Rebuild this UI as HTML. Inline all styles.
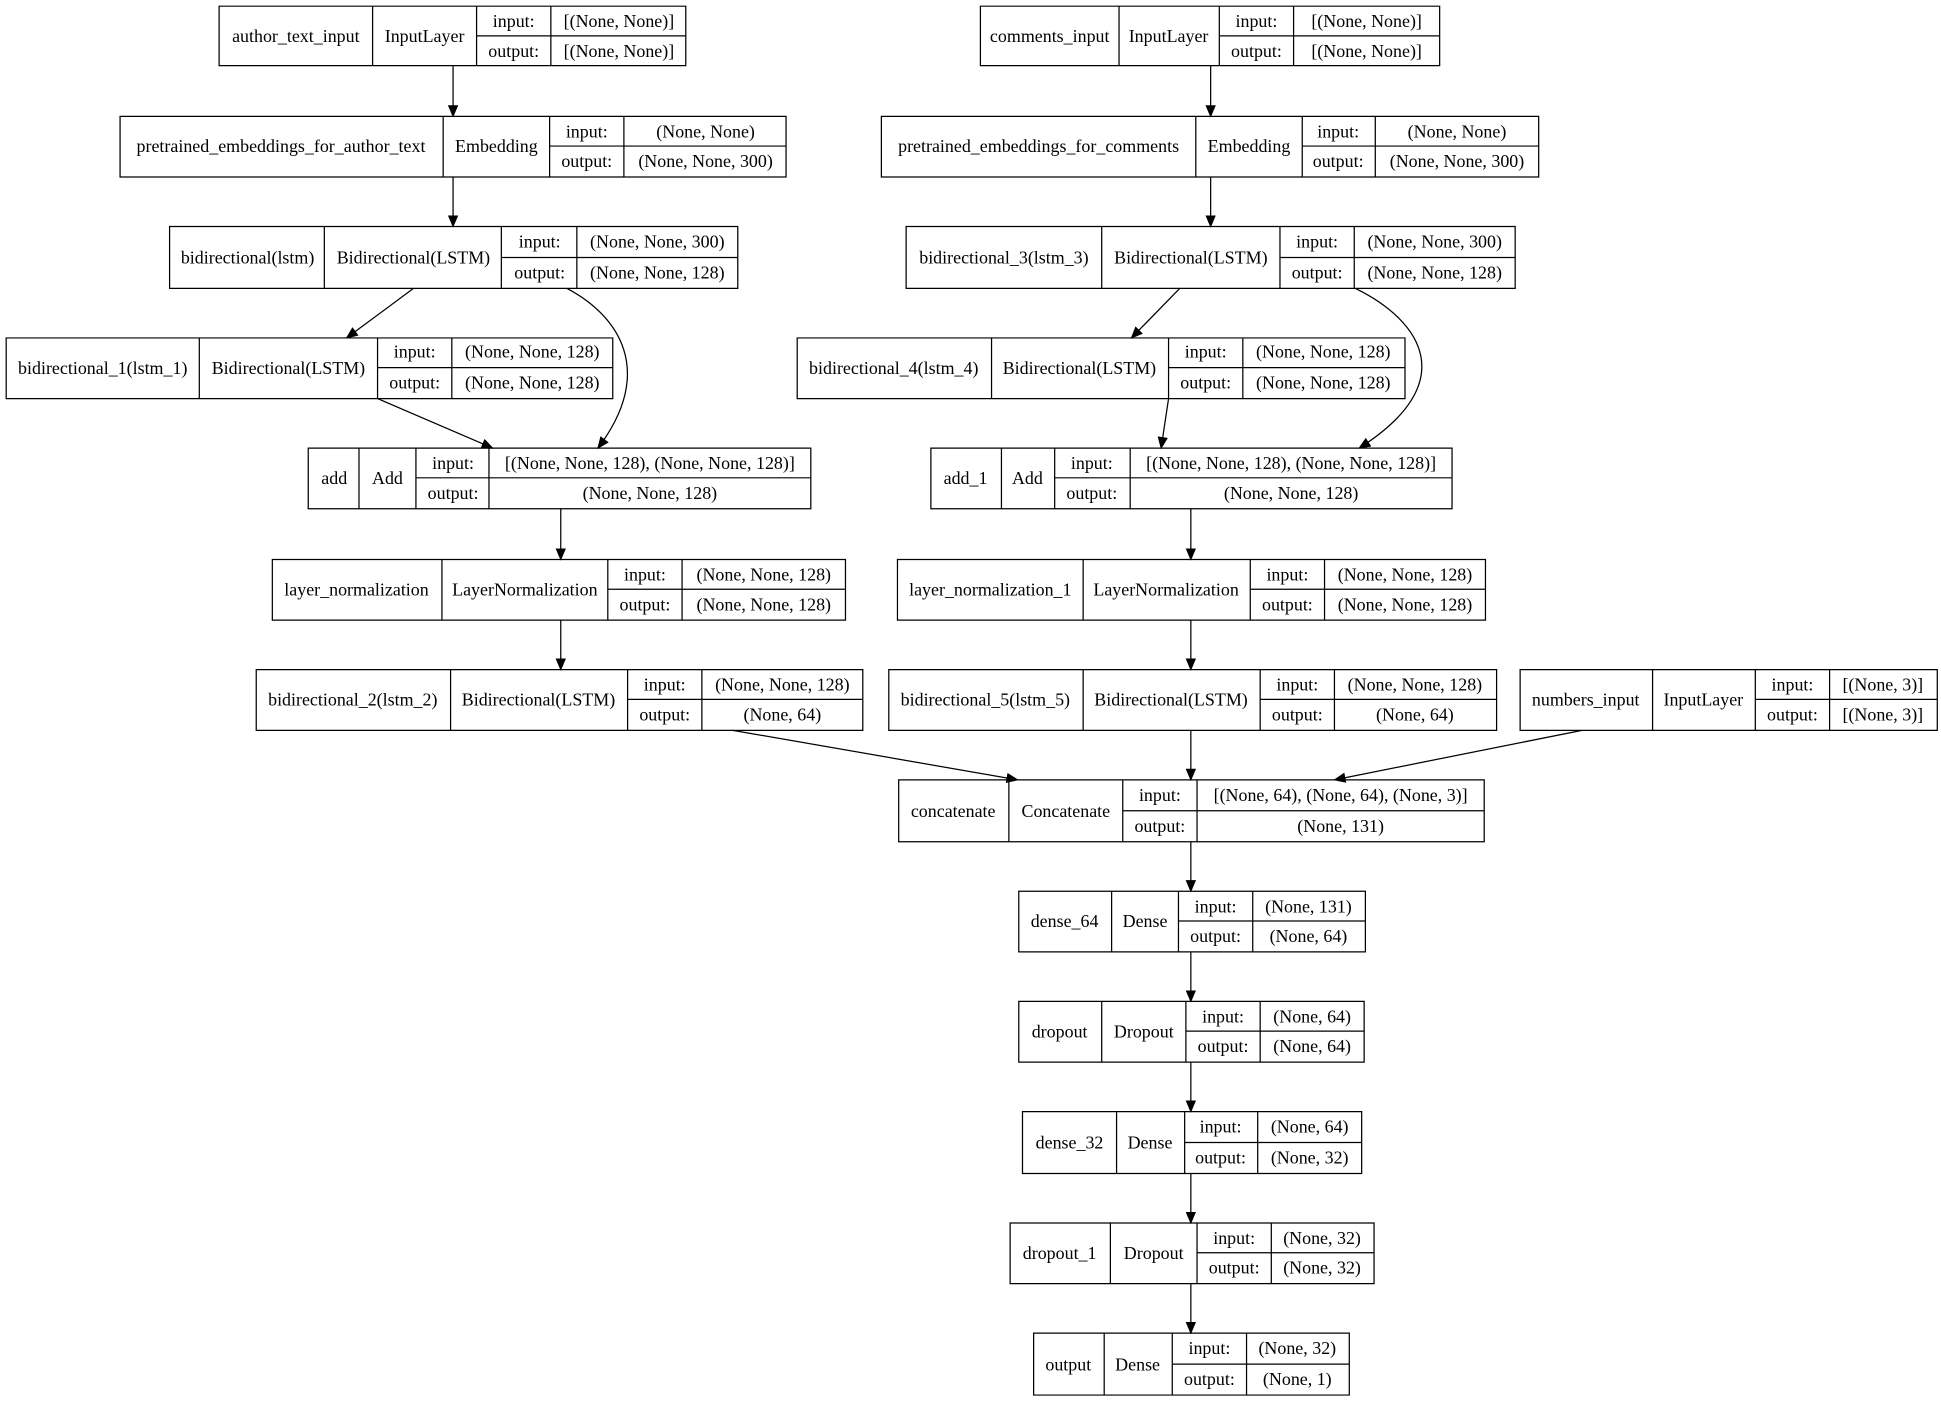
<!DOCTYPE html>
<html><head><meta charset="utf-8"><style>html,body{margin:0;padding:0;background:#fff}svg{display:block}</style></head><body>
<svg width="1941" height="1401" viewBox="0 0 1568 1131.8" preserveAspectRatio="none" xmlns="http://www.w3.org/2000/svg" font-family="'Liberation Serif',serif" font-size="14.5" text-anchor="middle">
<defs><marker id="a" markerWidth="10" markerHeight="10" refX="9" refY="5" orient="auto" markerUnits="userSpaceOnUse"><path d="M0,0.8 L10,5 L0,9.2 z" fill="#000"/></marker></defs>
<rect width="1568" height="1132" fill="#fff"/>
<g fill="none" stroke="#000" stroke-width="1">
<path d="M366,53V94" marker-end="url(#a)"/>
<path d="M366,143V183" marker-end="url(#a)"/>
<path d="M334,233L280,273" marker-end="url(#a)"/>
<path d="M458,233C500,255 530,300 483,362" marker-end="url(#a)"/>
<path d="M305,322L398,362" marker-end="url(#a)"/>
<path d="M453,411V452" marker-end="url(#a)"/>
<path d="M453,501V541" marker-end="url(#a)"/>
<path d="M592,590L822,630" marker-end="url(#a)"/>
<path d="M962,590V630" marker-end="url(#a)"/>
<path d="M1278,590L1078,630" marker-end="url(#a)"/>
<path d="M978,53V94" marker-end="url(#a)"/>
<path d="M978,143V183" marker-end="url(#a)"/>
<path d="M953,233L914,273" marker-end="url(#a)"/>
<path d="M1095,233C1150,260 1180,310 1098,362" marker-end="url(#a)"/>
<path d="M944,322L938,362" marker-end="url(#a)"/>
<path d="M962,411V452" marker-end="url(#a)"/>
<path d="M962,501V541" marker-end="url(#a)"/>
<path d="M962,680V720" marker-end="url(#a)"/>
<path d="M962,769V809" marker-end="url(#a)"/>
<path d="M962,858V898" marker-end="url(#a)"/>
<path d="M962,948V988" marker-end="url(#a)"/>
<path d="M962,1037V1077" marker-end="url(#a)"/>
</g>
<g fill="none" stroke="#000" stroke-width="1">
<path d="M177,5H554V53H177Z M301,5V53 M385,5V53 M445,5V53 M385,29H554"/>
<path d="M97,94H635V143H97Z M358,94V143 M444,94V143 M504,94V143 M444,118H635"/>
<path d="M137,183H596V233H137Z M262,183V233 M405,183V233 M466,183V233 M405,208H596"/>
<path d="M5,273H495V322H5Z M161,273V322 M305,273V322 M365,273V322 M305,297H495"/>
<path d="M249,362H655V411H249Z M290,362V411 M336,362V411 M395,362V411 M336,386H655"/>
<path d="M220,452H683V501H220Z M357,452V501 M491,452V501 M551,452V501 M491,476H683"/>
<path d="M207,541H697V590H207Z M364,541V590 M507,541V590 M567,541V590 M507,565H697"/>
<path d="M792,5H1163V53H792Z M904,5V53 M985,5V53 M1045,5V53 M985,29H1163"/>
<path d="M712,94H1243V143H712Z M966,94V143 M1052,94V143 M1111,94V143 M1052,118H1243"/>
<path d="M732,183H1224V233H732Z M890,183V233 M1034,183V233 M1094,183V233 M1034,208H1224"/>
<path d="M644,273H1135V322H644Z M801,273V322 M944,273V322 M1004,273V322 M944,297H1135"/>
<path d="M752,362H1173V411H752Z M809,362V411 M852,362V411 M913,362V411 M852,386H1173"/>
<path d="M725,452H1200V501H725Z M875,452V501 M1010,452V501 M1070,452V501 M1010,476H1200"/>
<path d="M718,541H1209V590H718Z M875,541V590 M1018,541V590 M1078,541V590 M1018,565H1209"/>
<path d="M1228,541H1565V590H1228Z M1335,541V590 M1418,541V590 M1478,541V590 M1418,565H1565"/>
<path d="M726,630H1199V680H726Z M815,630V680 M907,630V680 M967,630V680 M907,655H1199"/>
<path d="M823,720H1103V769H823Z M898,720V769 M952,720V769 M1012,720V769 M952,744H1103"/>
<path d="M823,809H1102V858H823Z M890,809V858 M958,809V858 M1018,809V858 M958,833H1102"/>
<path d="M826,898H1100V948H826Z M902,898V948 M957,898V948 M1016,898V948 M957,923H1100"/>
<path d="M816,988H1110V1037H816Z M897,988V1037 M967,988V1037 M1027,988V1037 M967,1012H1110"/>
<path d="M835,1077H1090V1127H835Z M892,1077V1127 M947,1077V1127 M1007,1077V1127 M947,1102H1090"/>
</g>
<g fill="#000">
<text x="239" y="34">author_text_input</text><text x="343" y="34">InputLayer</text><text x="415" y="22">input:</text><text x="500" y="22">[(None, None)]</text><text x="415" y="46">output:</text><text x="500" y="46">[(None, None)]</text>
<text x="227" y="123">pretrained_embeddings_for_author_text</text><text x="401" y="123">Embedding</text><text x="474" y="111">input:</text><text x="570" y="111">(None, None)</text><text x="474" y="135">output:</text><text x="570" y="135">(None, None, 300)</text>
<text x="200" y="213">bidirectional(lstm)</text><text x="334" y="213">Bidirectional(LSTM)</text><text x="436" y="200">input:</text><text x="531" y="200">(None, None, 300)</text><text x="436" y="225">output:</text><text x="531" y="225">(None, None, 128)</text>
<text x="83" y="302">bidirectional_1(lstm_1)</text><text x="233" y="302">Bidirectional(LSTM)</text><text x="335" y="289">input:</text><text x="430" y="289">(None, None, 128)</text><text x="335" y="314">output:</text><text x="430" y="314">(None, None, 128)</text>
<text x="270" y="391">add</text><text x="313" y="391">Add</text><text x="366" y="379">input:</text><text x="525" y="379">[(None, None, 128), (None, None, 128)]</text><text x="366" y="403">output:</text><text x="525" y="403">(None, None, 128)</text>
<text x="288" y="481">layer_normalization</text><text x="424" y="481">LayerNormalization</text><text x="521" y="469">input:</text><text x="617" y="469">(None, None, 128)</text><text x="521" y="493">output:</text><text x="617" y="493">(None, None, 128)</text>
<text x="285" y="570">bidirectional_2(lstm_2)</text><text x="435" y="570">Bidirectional(LSTM)</text><text x="537" y="558">input:</text><text x="632" y="558">(None, None, 128)</text><text x="537" y="582">output:</text><text x="632" y="582">(None, 64)</text>
<text x="848" y="34">comments_input</text><text x="944" y="34">InputLayer</text><text x="1015" y="22">input:</text><text x="1104" y="22">[(None, None)]</text><text x="1015" y="46">output:</text><text x="1104" y="46">[(None, None)]</text>
<text x="839" y="123">pretrained_embeddings_for_comments</text><text x="1009" y="123">Embedding</text><text x="1081" y="111">input:</text><text x="1177" y="111">(None, None)</text><text x="1081" y="135">output:</text><text x="1177" y="135">(None, None, 300)</text>
<text x="811" y="213">bidirectional_3(lstm_3)</text><text x="962" y="213">Bidirectional(LSTM)</text><text x="1064" y="200">input:</text><text x="1159" y="200">(None, None, 300)</text><text x="1064" y="225">output:</text><text x="1159" y="225">(None, None, 128)</text>
<text x="722" y="302">bidirectional_4(lstm_4)</text><text x="872" y="302">Bidirectional(LSTM)</text><text x="974" y="289">input:</text><text x="1069" y="289">(None, None, 128)</text><text x="974" y="314">output:</text><text x="1069" y="314">(None, None, 128)</text>
<text x="780" y="391">add_1</text><text x="830" y="391">Add</text><text x="882" y="379">input:</text><text x="1043" y="379">[(None, None, 128), (None, None, 128)]</text><text x="882" y="403">output:</text><text x="1043" y="403">(None, None, 128)</text>
<text x="800" y="481">layer_normalization_1</text><text x="942" y="481">LayerNormalization</text><text x="1040" y="469">input:</text><text x="1135" y="469">(None, None, 128)</text><text x="1040" y="493">output:</text><text x="1135" y="493">(None, None, 128)</text>
<text x="796" y="570">bidirectional_5(lstm_5)</text><text x="946" y="570">Bidirectional(LSTM)</text><text x="1048" y="558">input:</text><text x="1143" y="558">(None, None, 128)</text><text x="1048" y="582">output:</text><text x="1143" y="582">(None, 64)</text>
<text x="1281" y="570">numbers_input</text><text x="1376" y="570">InputLayer</text><text x="1448" y="558">input:</text><text x="1521" y="558">[(None, 3)]</text><text x="1448" y="582">output:</text><text x="1521" y="582">[(None, 3)]</text>
<text x="770" y="660">concatenate</text><text x="861" y="660">Concatenate</text><text x="937" y="647">input:</text><text x="1083" y="647">[(None, 64), (None, 64), (None, 3)]</text><text x="937" y="672">output:</text><text x="1083" y="672">(None, 131)</text>
<text x="860" y="749">dense_64</text><text x="925" y="749">Dense</text><text x="982" y="737">input:</text><text x="1057" y="737">(None, 131)</text><text x="982" y="761">output:</text><text x="1057" y="761">(None, 64)</text>
<text x="856" y="838">dropout</text><text x="924" y="838">Dropout</text><text x="988" y="826">input:</text><text x="1060" y="826">(None, 64)</text><text x="988" y="850">output:</text><text x="1060" y="850">(None, 64)</text>
<text x="864" y="928">dense_32</text><text x="929" y="928">Dense</text><text x="986" y="915">input:</text><text x="1058" y="915">(None, 64)</text><text x="986" y="940">output:</text><text x="1058" y="940">(None, 32)</text>
<text x="856" y="1017">dropout_1</text><text x="932" y="1017">Dropout</text><text x="997" y="1005">input:</text><text x="1068" y="1005">(None, 32)</text><text x="997" y="1029">output:</text><text x="1068" y="1029">(None, 32)</text>
<text x="863" y="1107">output</text><text x="919" y="1107">Dense</text><text x="977" y="1094">input:</text><text x="1048" y="1094">(None, 32)</text><text x="977" y="1119">output:</text><text x="1048" y="1119">(None, 1)</text>
</g>
</svg>
</body></html>
